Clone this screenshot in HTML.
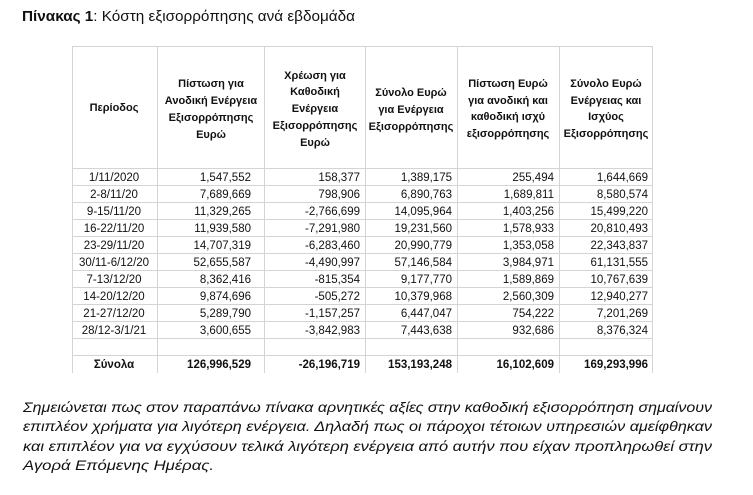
<!DOCTYPE html>
<html><head><meta charset="utf-8"><style>
html,body{margin:0;padding:0;background:#fff;width:753px;height:495px;overflow:hidden}
svg{display:block}
text{font-family:"Liberation Sans","DejaVu Sans",sans-serif;fill:#111}
.h{font-size:11px;font-weight:bold;text-anchor:middle}
.d{font-size:11.5px;text-anchor:end}
.p{font-size:11.5px;text-anchor:middle}
.b{font-size:11.5px;font-weight:bold;text-anchor:end}
.it{font-size:13.5px;font-style:italic}
</style></head><body>
<svg width="753" height="495" viewBox="0 0 753 495">
<text x="22" y="21" font-size="15" textLength="333" lengthAdjust="spacingAndGlyphs"><tspan font-weight="bold">Πίνακας 1</tspan>: Κόστη εξισορρόπησης ανά εβδομάδα</text>
<g stroke="#d4d4d4" stroke-width="1">
<line x1="72" y1="46.5" x2="653" y2="46.5"/>
<line x1="72" y1="168.5" x2="653" y2="168.5"/>
<line x1="72" y1="185.5" x2="653" y2="185.5"/>
<line x1="72" y1="202.5" x2="653" y2="202.5"/>
<line x1="72" y1="219.5" x2="653" y2="219.5"/>
<line x1="72" y1="236.5" x2="653" y2="236.5"/>
<line x1="72" y1="253.5" x2="653" y2="253.5"/>
<line x1="72" y1="270.5" x2="653" y2="270.5"/>
<line x1="72" y1="287.5" x2="653" y2="287.5"/>
<line x1="72" y1="304.5" x2="653" y2="304.5"/>
<line x1="72" y1="321.5" x2="653" y2="321.5"/>
<line x1="72" y1="338.5" x2="653" y2="338.5"/>
<line x1="72" y1="355.5" x2="653" y2="355.5"/>
<line x1="72.5" y1="46" x2="72.5" y2="373"/>
<line x1="157.5" y1="46" x2="157.5" y2="373"/>
<line x1="264.5" y1="46" x2="264.5" y2="373"/>
<line x1="365.5" y1="46" x2="365.5" y2="373"/>
<line x1="457.5" y1="46" x2="457.5" y2="373"/>
<line x1="559.5" y1="46" x2="559.5" y2="373"/>
<line x1="652.5" y1="46" x2="652.5" y2="373"/>
</g>
<text class="h" x="114" y="111">Περίοδος</text>
<text class="h" x="211" y="87">Πίστωση για</text>
<text class="h" x="211" y="104">Ανοδική Ενέργεια</text>
<text class="h" x="211" y="121">Εξισορρόπησης</text>
<text class="h" x="211" y="138">Ευρώ</text>
<text class="h" x="315" y="79">Χρέωση για</text>
<text class="h" x="315" y="95">Καθοδική</text>
<text class="h" x="315" y="112">Ενέργεια</text>
<text class="h" x="315" y="129">Εξισορρόπησης</text>
<text class="h" x="315" y="146">Ευρώ</text>
<text class="h" x="411" y="96">Σύνολο Ευρώ</text>
<text class="h" x="411" y="113">για Ενέργεια</text>
<text class="h" x="411" y="130">Εξισορρόπησης</text>
<text class="h" x="508" y="87">Πίστωση Ευρώ</text>
<text class="h" x="508" y="104">για ανοδική και</text>
<text class="h" x="508" y="120">καθοδική ισχύ</text>
<text class="h" x="508" y="137">εξισορρόπησης</text>
<text class="h" x="606" y="87">Σύνολο Ευρώ</text>
<text class="h" x="606" y="104">Ενέργειας και</text>
<text class="h" x="606" y="120">Ισχύος</text>
<text class="h" x="606" y="137">Εξισορρόπησης</text>

<g>
<text class="p" x="114" y="181">1/11/2020</text><text class="d" x="251" y="181">1,547,552</text><text class="d" x="360" y="181">158,377</text><text class="d" x="452" y="181">1,389,175</text><text class="d" x="554" y="181">255,494</text><text class="d" x="648" y="181">1,644,669</text>
<text class="p" x="114" y="198">2-8/11/20</text><text class="d" x="251" y="198">7,689,669</text><text class="d" x="360" y="198">798,906</text><text class="d" x="452" y="198">6,890,763</text><text class="d" x="554" y="198">1,689,811</text><text class="d" x="648" y="198">8,580,574</text>
<text class="p" x="114" y="215">9-15/11/20</text><text class="d" x="251" y="215">11,329,265</text><text class="d" x="360" y="215">-2,766,699</text><text class="d" x="452" y="215">14,095,964</text><text class="d" x="554" y="215">1,403,256</text><text class="d" x="648" y="215">15,499,220</text>
<text class="p" x="114" y="232">16-22/11/20</text><text class="d" x="251" y="232">11,939,580</text><text class="d" x="360" y="232">-7,291,980</text><text class="d" x="452" y="232">19,231,560</text><text class="d" x="554" y="232">1,578,933</text><text class="d" x="648" y="232">20,810,493</text>
<text class="p" x="114" y="249">23-29/11/20</text><text class="d" x="251" y="249">14,707,319</text><text class="d" x="360" y="249">-6,283,460</text><text class="d" x="452" y="249">20,990,779</text><text class="d" x="554" y="249">1,353,058</text><text class="d" x="648" y="249">22,343,837</text>
<text class="p" x="114" y="266">30/11-6/12/20</text><text class="d" x="251" y="266">52,655,587</text><text class="d" x="360" y="266">-4,490,997</text><text class="d" x="452" y="266">57,146,584</text><text class="d" x="554" y="266">3,984,971</text><text class="d" x="648" y="266">61,131,555</text>
<text class="p" x="114" y="283">7-13/12/20</text><text class="d" x="251" y="283">8,362,416</text><text class="d" x="360" y="283">-815,354</text><text class="d" x="452" y="283">9,177,770</text><text class="d" x="554" y="283">1,589,869</text><text class="d" x="648" y="283">10,767,639</text>
<text class="p" x="114" y="300">14-20/12/20</text><text class="d" x="251" y="300">9,874,696</text><text class="d" x="360" y="300">-505,272</text><text class="d" x="452" y="300">10,379,968</text><text class="d" x="554" y="300">2,560,309</text><text class="d" x="648" y="300">12,940,277</text>
<text class="p" x="114" y="317">21-27/12/20</text><text class="d" x="251" y="317">5,289,790</text><text class="d" x="360" y="317">-1,157,257</text><text class="d" x="452" y="317">6,447,047</text><text class="d" x="554" y="317">754,222</text><text class="d" x="648" y="317">7,201,269</text>
<text class="p" x="114" y="334">28/12-3/1/21</text><text class="d" x="251" y="334">3,600,655</text><text class="d" x="360" y="334">-3,842,983</text><text class="d" x="452" y="334">7,443,638</text><text class="d" x="554" y="334">932,686</text><text class="d" x="648" y="334">8,376,324</text>
<text class="p" x="114" y="368" font-weight="bold">Σύνολα</text><text class="b" x="251" y="368">126,996,529</text><text class="b" x="360" y="368">-26,196,719</text><text class="b" x="452" y="368">153,193,248</text><text class="b" x="554" y="368">16,102,609</text><text class="b" x="648" y="368">169,293,996</text>
</g>

<text class="it" x="23" y="412" textLength="689" lengthAdjust="spacingAndGlyphs">Σημειώνεται πως στον παραπάνω πίνακα αρνητικές αξίες στην καθοδική εξισορρόπηση σημαίνουν</text>
<text class="it" x="23" y="431" textLength="689" lengthAdjust="spacingAndGlyphs">επιπλέον χρήματα για λιγότερη ενέργεια.  Δηλαδή πως οι πάροχοι τέτοιων υπηρεσιών αμείφθηκαν</text>
<text class="it" x="23" y="451" textLength="689" lengthAdjust="spacingAndGlyphs">και επιπλέον για να εγχύσουν τελικά λιγότερη ενέργεια από αυτήν που είχαν προπληρωθεί στην</text>
<text class="it" x="23" y="470" textLength="191" lengthAdjust="spacingAndGlyphs">Αγορά Επόμενης Ημέρας.</text>
</svg>
</body></html>
